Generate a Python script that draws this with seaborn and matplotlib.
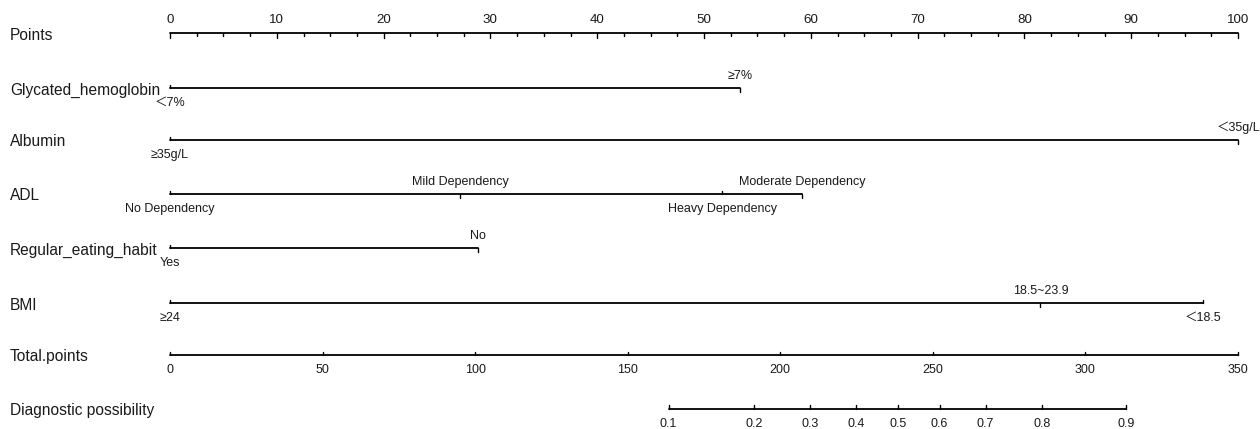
import numpy as np
import pandas as pd
import matplotlib
matplotlib.use("Agg")
import matplotlib.pyplot as plt
import seaborn as sns

# ---------------- data (points scale 0-100) ----------------
points_ticks = [0, 10, 20, 30, 40, 50, 60, 70, 80, 90, 100]

glyc_levels = ["＜7%", "≥7%"]
glyc_points = [0, 53.4]

albumin_levels = ["≥35g/L", "＜35g/L"]
albumin_points = [0, 100]

adl_levels = ["No Dependency", "Mild Dependency", "Heavy Dependency", "Moderate Dependency"]
adl_points = [0, 27.2, 51.7, 59.2]

eating_levels = ["Yes", "No"]
eating_points = [0, 28.8]

bmi_levels = ["≥24", "18.5~23.9", "＜18.5"]
bmi_points = [0, 81.5, 96.7]

total_ticks = [0, 50, 100, 150, 200, 250, 300, 350]
total_max = 350

prob_labels = ["0.1", "0.2", "0.3", "0.4", "0.5", "0.6", "0.7", "0.8", "0.9"]
prob_total = [163.4, 191.4, 209.8, 224.8, 238.6, 252.2, 267.3, 285.7, 313.3]

# ---------------- layout ----------------
sns.set_theme(style="white")
plt.rcParams["font.family"] = ["Liberation Sans", "Noto Sans CJK SC", "DejaVu Sans"]

W, H = 1260, 429
fig = plt.figure(figsize=(W / 100, H / 100), dpi=100)
ax = fig.add_axes([0, 0, 1, 1])
x0px, x100px = 170, 1238
ppx = (x100px - x0px) / 100.0
ax.set_xlim(-x0px / ppx, (W - x0px) / ppx)
ax.set_ylim(H, 0)
ax.axis("off")

row_y = {"Points": 33, "Glycated_hemoglobin": 88, "Albumin": 140, "ADL": 194,
         "Regular_eating_habit": 248, "BMI": 303, "Total.points": 355,
         "Diagnostic possibility": 409}

LW = 1.3
TXT = "#1a1a1a"
LAB_FS = 11.2
TICK_FS = 9
PTS_FS = 9.6

# row titles
for name, y in row_y.items():
    ax.text(-x0px / ppx + 10 / ppx, y + 2, name, fontsize=LAB_FS, color=TXT,
            ha="left", va="center")

# collect horizontal line segments for seaborn
segs = []
def seg(name, xa, xb):
    y = row_y[name]
    segs.append({"x": xa, "y": y, "row": name, "o": 0})
    segs.append({"x": xb, "y": y, "row": name, "o": 1})

# Points axis
seg("Points", points_ticks[0], points_ticks[-1])
y = row_y["Points"]
minor = np.arange(0, 100.01, 2.5)
for m in minor:
    ln = 4.5 if abs(m % 10) < 1e-9 else 2.5
    ax.plot([m, m], [y, y + ln], color="black", lw=1.0)
for t in points_ticks:
    ax.text(t, y - 13, str(t), fontsize=PTS_FS, color=TXT, ha="center", va="center")

# categorical axes
cat_rows = [
    ("Glycated_hemoglobin", glyc_levels, glyc_points, ["below", "above"]),
    ("Albumin", albumin_levels, albumin_points, ["below", "above"]),
    ("ADL", adl_levels, adl_points, ["below", "above", "below", "above"]),
    ("Regular_eating_habit", eating_levels, eating_points, ["below", "above"]),
    ("BMI", bmi_levels, bmi_points, ["below", "above", "below"]),
]
for name, levels, pts, sides in cat_rows:
    y = row_y[name]
    seg(name, min(pts), max(pts))
    for lev, p, side in zip(levels, pts, sides):
        if side == "above":
            ax.plot([p, p], [y, y + 3.5], color="black", lw=1.0)
            ax.text(p, y - 12, lev, fontsize=TICK_FS, color=TXT, ha="center", va="center")
        else:
            ax.plot([p, p], [y, y - 3], color="black", lw=1.0)
            ax.text(p, y + 15, lev, fontsize=TICK_FS, color=TXT, ha="center", va="center")

# Total points axis (mapped to points scale)
def tp(v):
    return v * 100.0 / total_max

seg("Total.points", tp(total_ticks[0]), tp(total_ticks[-1]))
y = row_y["Total.points"]
for t in total_ticks:
    ax.plot([tp(t), tp(t)], [y, y - 3.5], color="black", lw=1.0)
    ax.text(tp(t), y + 15, str(t), fontsize=TICK_FS, color=TXT, ha="center", va="center")

# Diagnostic possibility axis
seg("Diagnostic possibility", tp(prob_total[0]), tp(prob_total[-1]))
y = row_y["Diagnostic possibility"]
for lab, t in zip(prob_labels, prob_total):
    ax.plot([tp(t), tp(t)], [y, y - 4], color="black", lw=1.0)
    ax.text(tp(t), y + 15, lab, fontsize=TICK_FS, color=TXT, ha="center", va="center")

df = pd.DataFrame(segs)
sns.lineplot(data=df, x="x", y="y", units="row", estimator=None, sort=False,
             color="black", lw=LW, ax=ax, legend=False)
ax.set_xlim(-x0px / ppx, (W - x0px) / ppx)
ax.set_ylim(H, 0)
ax.axis("off")

fig.savefig("out.png", dpi=100, facecolor="white")
